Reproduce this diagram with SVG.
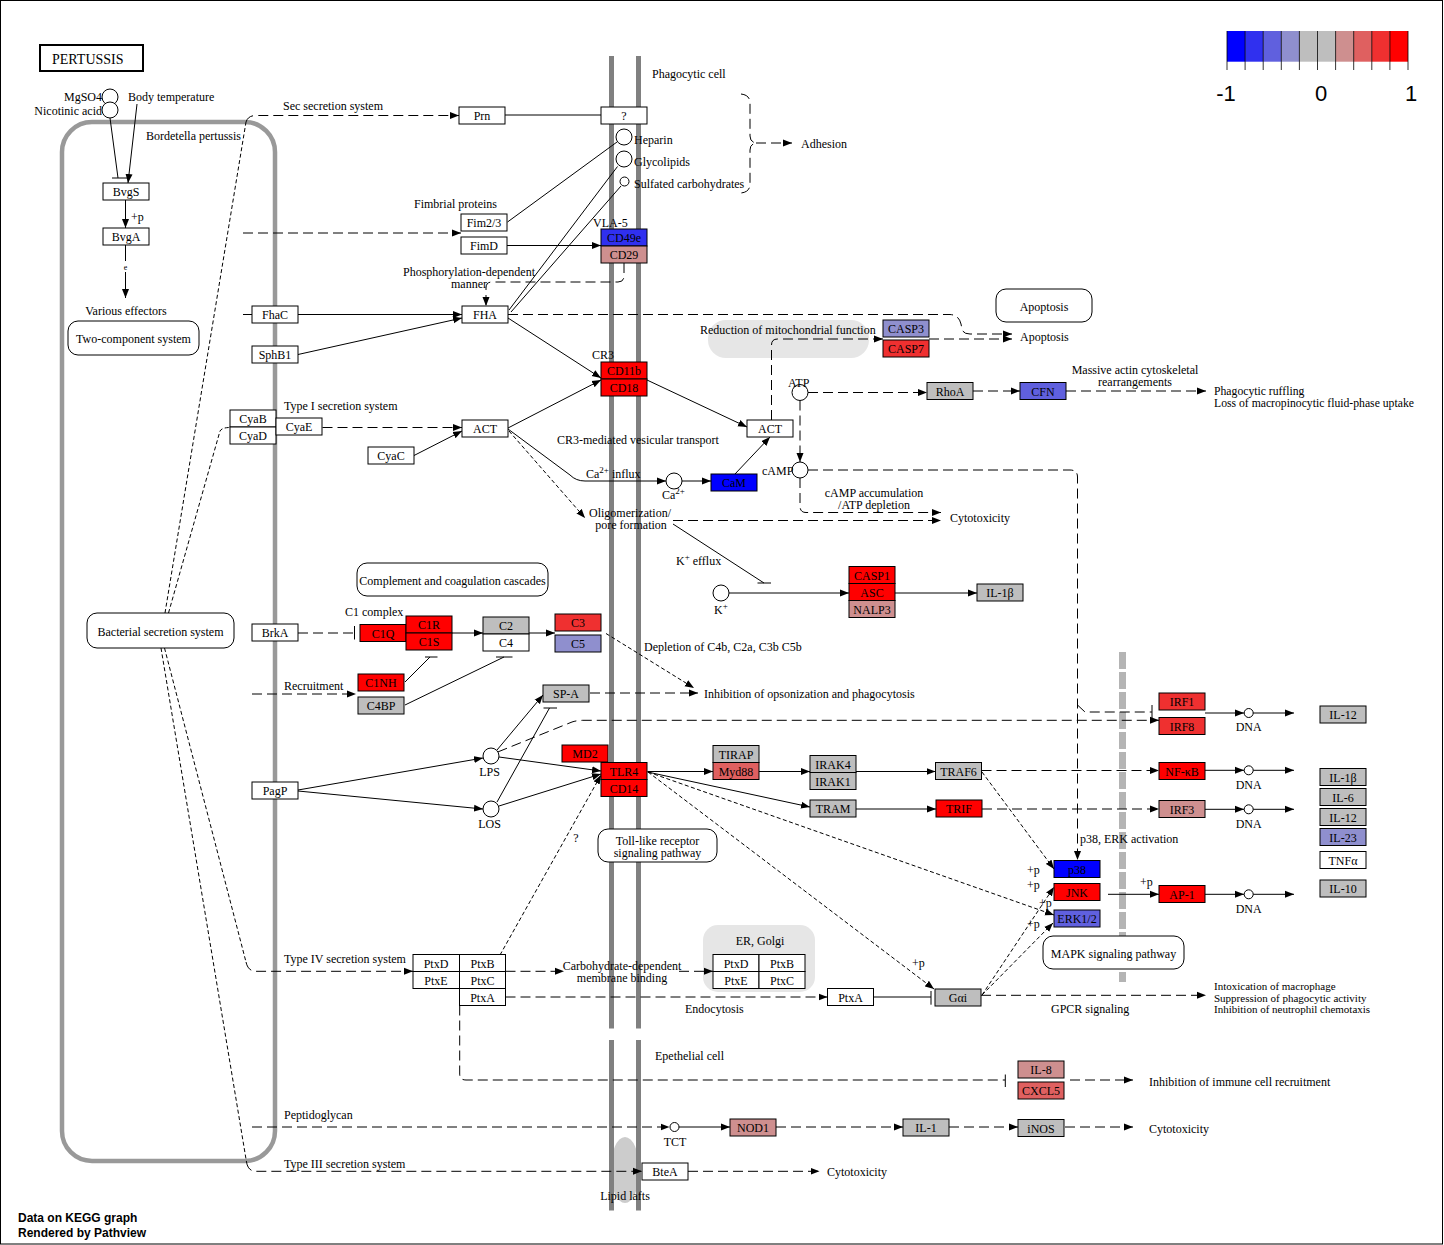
<svg xmlns="http://www.w3.org/2000/svg" width="1444" height="1245" viewBox="0 0 1444 1245">
<defs>
<style>
text{font-family:"Liberation Serif","Times New Roman",serif;font-size:12px;fill:#000}
.m{text-anchor:middle}
.te{text-anchor:end}
.s11{font-size:11px}
.s117{font-size:11.7px}
.nd rect{stroke:#000;stroke-width:1}
.w{fill:#fff}.g{fill:#BEBEBE}.r{fill:#FF0000}.b{fill:#0000FF}.b2{fill:#3030EF}.b3{fill:#6060DE}.b4{fill:#8F8FCE}.r2{fill:#CE8F8F}.r3{fill:#DF6060}.r4{fill:#EF3030}
.cp{fill:#fff;stroke:#000;stroke-width:1}
.pw{fill:#fff;stroke:#000;stroke-width:1}
.ln{fill:none;stroke:#000;stroke-width:1}
.ds{stroke-dasharray:10 5}
.th{stroke-dasharray:4 2.5}
.lg{font-family:"Liberation Sans",Arial,sans-serif;font-size:22px;text-anchor:middle}
.ft{font-family:"Liberation Sans",Arial,sans-serif;font-size:12px;font-weight:bold}
</style>
<marker id="a" viewBox="0 0 9 8" refX="9" refY="4" markerWidth="9" markerHeight="8" markerUnits="userSpaceOnUse" orient="auto">
<path d="M0,0.5 L9,4 L0,7.5 z" fill="#000"/>
</marker>
</defs>
<rect x="0" y="0" width="1444" height="1245" fill="#fff"/>
<rect x="0.5" y="0.5" width="1442" height="1243.5" fill="none" stroke="#000" stroke-width="1"/>

<!-- compartments and background shapes -->
<g id="compartments">
<rect x="62" y="122" width="213" height="1039" rx="30" fill="none" stroke="#999" stroke-width="4.5"/>
<rect x="708" y="320" width="161" height="38" rx="18" fill="#E6E6E6"/>
<rect x="703" y="925" width="112" height="67" rx="15" fill="#E6E6E6"/>
<ellipse cx="625" cy="1170" rx="14.5" ry="33" fill="#CCCCCC"/>
<g stroke="#808080" stroke-width="5">
<line x1="611.5" y1="56" x2="611.5" y2="1028.5"/>
<line x1="638.5" y1="56" x2="638.5" y2="1028.5"/>
<line x1="611.5" y1="1040" x2="611.5" y2="1210.5"/>
<line x1="638.5" y1="1040" x2="638.5" y2="1210.5"/>
</g>
<line x1="1122.5" y1="652" x2="1122.5" y2="982" stroke="#B4B4B4" stroke-width="7" stroke-dasharray="17 3"/>
</g>

<!-- legend -->
<g id="legend">
<rect x="1227" y="31" width="18.1" height="30.7" fill="#0000FF"/>
<rect x="1245.1" y="31" width="18.1" height="30.7" fill="#3030EF"/>
<rect x="1263.2" y="31" width="18.1" height="30.7" fill="#6060DE"/>
<rect x="1281.3" y="31" width="18.1" height="30.7" fill="#8F8FCE"/>
<rect x="1299.4" y="31" width="18.1" height="30.7" fill="#BEBEBE"/>
<rect x="1317.5" y="31" width="18.1" height="30.7" fill="#BEBEBE"/>
<rect x="1335.6" y="31" width="18.1" height="30.7" fill="#CE8F8F"/>
<rect x="1353.7" y="31" width="18.1" height="30.7" fill="#DF6060"/>
<rect x="1371.8" y="31" width="18.1" height="30.7" fill="#EF3030"/>
<rect x="1389.9" y="31" width="18.1" height="30.7" fill="#FF0000"/>
<g stroke="#000" stroke-width="0.8">
<line x1="1227" y1="31" x2="1227" y2="70"/><line x1="1245.1" y1="31" x2="1245.1" y2="70"/>
<line x1="1263.2" y1="31" x2="1263.2" y2="70"/><line x1="1281.3" y1="31" x2="1281.3" y2="70"/>
<line x1="1299.4" y1="31" x2="1299.4" y2="70"/><line x1="1317.5" y1="31" x2="1317.5" y2="70"/>
<line x1="1335.6" y1="31" x2="1335.6" y2="70"/><line x1="1353.7" y1="31" x2="1353.7" y2="70"/>
<line x1="1371.8" y1="31" x2="1371.8" y2="70"/><line x1="1389.9" y1="31" x2="1389.9" y2="70"/>
<line x1="1408" y1="31" x2="1408" y2="70"/>
</g>
<text class="lg" x="1226" y="101">-1</text>
<text class="lg" x="1321" y="101">0</text>
<text class="lg" x="1411" y="101">1</text>
</g>

<!-- title -->
<g id="title">
<rect x="40" y="45" width="103" height="26" fill="#fff" stroke="#000" stroke-width="2"/>
<text x="52" y="64" style="font-size:14px">PERTUSSIS</text>
</g>

<!-- connectors -->
<g id="edges" class="ln">
<line x1="110" y1="118" x2="118" y2="178"/>
<line x1="112" y1="178" x2="128" y2="178"/>
<line x1="137" y1="104" x2="128" y2="183" marker-end="url(#a)"/>
<line x1="125.5" y1="200" x2="125.5" y2="228" marker-end="url(#a)"/>
<line x1="125.5" y1="245" x2="125.5" y2="261"/>
<line x1="125.5" y1="272" x2="125.5" y2="298" marker-end="url(#a)"/>
<path class="th" d="M165,613 L246,122"/>
<path class="ds" d="M246,122 Q248,115.5 256,115.5 H459" marker-end="url(#a)"/>
<path class="ds" d="M243,233 H461" marker-end="url(#a)"/>
<line x1="505" y1="115" x2="601" y2="115"/>
<line x1="507.5" y1="222" x2="617" y2="142"/>
<line x1="617.5" y1="166.5" x2="509" y2="310"/>
<line x1="621" y1="186" x2="511" y2="312"/>
<line x1="507" y1="245.5" x2="601" y2="245.5" marker-end="url(#a)"/>
<path class="ds" d="M741,94 Q750,95 750,103 V136 Q750,142 756,143 Q750,144 750,150 V184 Q750,192 741,193"/>
<path class="ds" d="M756,143 H792" marker-end="url(#a)"/>
<path class="ds" d="M624,263 V276 Q624,282 618,282 H492 Q486,282 486,288 V306" marker-end="url(#a)"/>
<line x1="243" y1="314.5" x2="252" y2="314.5"/>
<line x1="298" y1="314.5" x2="462" y2="314.5" marker-end="url(#a)"/>
<line x1="298" y1="354.5" x2="462" y2="318" marker-end="url(#a)"/>
<path class="ds" d="M508,314.5 H950 Q959,315 961,324 L962,329 Q963,334 970,334 H1012" marker-end="url(#a)"/>
<path class="ds" d="M929,339 H1012" marker-end="url(#a)"/>
<path class="ds" d="M771.5,420 V345 Q771.5,339 777.5,339 H883" marker-end="url(#a)"/>
<line x1="508" y1="318" x2="601" y2="378" marker-end="url(#a)"/>
<line x1="508" y1="428" x2="601" y2="380" marker-end="url(#a)"/>
<line x1="647" y1="380" x2="747" y2="427" marker-end="url(#a)"/>
<path class="ds" d="M322.5,427.5 H462" marker-end="url(#a)"/>
<line x1="414" y1="455.5" x2="462" y2="431" marker-end="url(#a)"/>
<path class="th" d="M168.5,613 L220,431 Q222,427.5 230,427.5"/>
<path d="M508,429 L570,475 Q576,481 585,481 H666" marker-end="url(#a)"/>
<line x1="682" y1="481" x2="711" y2="481" marker-end="url(#a)"/>
<line x1="735" y1="474" x2="770" y2="437" marker-end="url(#a)"/>
<path class="th" d="M509,431 L585,518" marker-end="url(#a)"/>
<path class="ds" d="M673,520.5 H941" marker-end="url(#a)"/>
<path class="ds" d="M800,478 V506 Q800,512.5 806,512.5 H941" marker-end="url(#a)"/>
<line x1="673" y1="524" x2="764" y2="583"/>
<line x1="757.5" y1="583" x2="771" y2="583"/>
<line x1="729" y1="593" x2="849" y2="593" marker-end="url(#a)"/>
<line x1="895" y1="593" x2="977" y2="593" marker-end="url(#a)"/>
<path class="ds" d="M808,392.5 H927" marker-end="url(#a)"/>
<path class="ds" d="M973,391 H1020" marker-end="url(#a)"/>
<path class="ds" d="M1066,391 H1206" marker-end="url(#a)"/>
<path class="ds" d="M800,400.5 V462" marker-end="url(#a)"/>
<path class="ds" d="M808,470 H1070 Q1077.5,470 1077.5,477 V860" marker-end="url(#a)"/>
<path class="ds" d="M1077.5,705 L1085,712 H1152"/>
<line x1="1152" y1="705" x2="1152" y2="719"/>
<path class="ds" d="M497.7,752 L572,722 Q577,720.3 584,720.3 H1159" marker-end="url(#a)"/>
<path class="ds" d="M981.5,770.5 H1159" marker-end="url(#a)"/>
<path class="ds" d="M982,809 H1159" marker-end="url(#a)"/>
<line x1="1205" y1="713" x2="1244" y2="713" marker-end="url(#a)"/>
<line x1="1253" y1="713" x2="1294" y2="713" marker-end="url(#a)"/>
<line x1="1205" y1="770.3" x2="1244" y2="770.3" marker-end="url(#a)"/>
<line x1="1253" y1="770.3" x2="1294" y2="770.3" marker-end="url(#a)"/>
<line x1="1205" y1="809.3" x2="1244" y2="809.3" marker-end="url(#a)"/>
<line x1="1253" y1="809.3" x2="1294" y2="809.3" marker-end="url(#a)"/>
<line x1="1205" y1="894.3" x2="1244" y2="894.3" marker-end="url(#a)"/>
<line x1="1253" y1="894.3" x2="1294" y2="894.3" marker-end="url(#a)"/>
<line x1="1108" y1="894.3" x2="1159" y2="894.3" marker-end="url(#a)"/>
<path class="th" d="M982,772 L1054,869" marker-end="url(#a)"/>
<path class="th" d="M982,995 L1054,887" marker-end="url(#a)"/>
<path class="th" d="M648,772 L1054,915" marker-end="url(#a)"/>
<path class="th" d="M982,995 L1053,923" marker-end="url(#a)"/>
<path class="th" d="M648,772 L934,989" marker-end="url(#a)"/>
<line x1="647.5" y1="771.5" x2="713" y2="771.5" marker-end="url(#a)"/>
<line x1="759" y1="771.5" x2="810" y2="771.5" marker-end="url(#a)"/>
<line x1="856" y1="771.5" x2="935.5" y2="771.5" marker-end="url(#a)"/>
<line x1="647.5" y1="772" x2="810" y2="807" marker-end="url(#a)"/>
<line x1="856" y1="809" x2="936" y2="809" marker-end="url(#a)"/>
<line x1="499" y1="757" x2="601" y2="771" marker-end="url(#a)"/>
<line x1="499" y1="806" x2="601" y2="774" marker-end="url(#a)"/>
<line x1="298" y1="790" x2="483" y2="758" marker-end="url(#a)"/>
<line x1="298" y1="791" x2="483" y2="809" marker-end="url(#a)"/>
<line x1="497" y1="750" x2="543" y2="695" marker-end="url(#a)"/>
<line x1="497" y1="802" x2="549.5" y2="708"/>
<line x1="543.5" y1="708" x2="557" y2="708"/>
<path class="ds" d="M590,693 H698" marker-end="url(#a)"/>
<path class="th" d="M606,633.5 L694,688" marker-end="url(#a)"/>
<line x1="529" y1="633" x2="555" y2="633" marker-end="url(#a)"/>
<line x1="452" y1="633" x2="483" y2="633" marker-end="url(#a)"/>
<path class="ds" d="M298,633 H354"/>
<line x1="354.5" y1="626" x2="354.5" y2="639.5"/>
<line x1="405" y1="682" x2="430" y2="657"/>
<line x1="425" y1="657" x2="437.5" y2="657"/>
<line x1="405" y1="705" x2="504" y2="657"/>
<line x1="496" y1="657" x2="512.5" y2="657"/>
<path class="ds" d="M252,694 H356" marker-end="url(#a)"/>
<path class="th" d="M500,955 L601,775" marker-end="url(#a)"/>
<path class="th" d="M164.5,648 L246,962"/>
<path class="ds" d="M246,962 Q248,971.3 256,971.3 H413" marker-end="url(#a)"/>
<path class="th" d="M161,648 L246.5,1162"/>
<path class="ds" d="M246.5,1162 Q248,1171.3 256,1171.3 H642" marker-end="url(#a)"/>
<path class="ds" d="M505.5,971.3 H564" marker-end="url(#a)"/>
<path class="ds" d="M679,971.3 H713" marker-end="url(#a)"/>
<path class="ds" d="M505.5,997 H827.5" marker-end="url(#a)"/>
<line x1="873.5" y1="997" x2="931" y2="997"/>
<line x1="931" y1="991" x2="931" y2="1004.7"/>
<path class="ds" d="M981,995.3 H1206" marker-end="url(#a)"/>
<path class="ds" d="M459.7,1005.5 V1074 Q459.7,1080 466,1080 H1005"/>
<line x1="1005.3" y1="1074.5" x2="1005.3" y2="1087"/>
<path class="ds" d="M1070,1080 H1133" marker-end="url(#a)"/>
<path class="ds" d="M252,1127 H669.5" marker-end="url(#a)"/>
<line x1="679" y1="1127" x2="730" y2="1127" marker-end="url(#a)"/>
<path class="ds" d="M776,1127 H903" marker-end="url(#a)"/>
<path class="ds" d="M949,1127 H1018" marker-end="url(#a)"/>
<path class="ds" d="M1065,1127 H1133" marker-end="url(#a)"/>
<path class="ds" d="M688,1171.3 H819.5" marker-end="url(#a)"/>
</g>

<!-- pathway map links -->
<g id="map-two-component"><rect class="pw" x="68" y="321" width="131" height="34" rx="10"/><text class="m" x="133.5" y="343">Two-component system</text></g>
<g id="map-bacterial-secretion"><rect class="pw" x="87" y="613" width="147" height="35" rx="10"/><text class="m" x="160.5" y="636">Bacterial secretion system</text></g>
<g id="map-complement"><rect class="pw" x="357" y="563" width="191" height="33" rx="10"/><text class="m" x="452.5" y="585">Complement and coagulation cascades</text></g>
<g id="map-apoptosis"><rect class="pw" x="996" y="289" width="96" height="33" rx="10"/><text class="m" x="1044" y="311">Apoptosis</text></g>
<g id="map-tlr"><rect class="pw" x="598" y="829" width="119" height="33" rx="10"/><text class="m" x="657.5" y="845">Toll-like receptor</text><text class="m" x="657.5" y="856.5">signaling pathway</text></g>
<g id="map-mapk"><rect class="pw" x="1043" y="936" width="141" height="33" rx="10"/><text class="m" x="1113.5" y="958">MAPK signaling pathway</text></g>

<!-- compounds -->
<g id="c-MgSO4"><circle class="cp" cx="110" cy="97" r="8"/></g>
<g id="c-nicotinic"><circle class="cp" cx="110" cy="110" r="8"/></g>
<g id="c-heparin"><circle class="cp" cx="624" cy="137" r="8"/></g>
<g id="c-glycolipids"><circle class="cp" cx="624" cy="159" r="8"/></g>
<g id="c-sulfated"><circle class="cp" cx="624.5" cy="181.5" r="4.5"/></g>
<g id="c-Ca"><circle class="cp" cx="674" cy="481" r="8"/></g>
<g id="c-ATP"><circle class="cp" cx="800" cy="392.5" r="8"/></g>
<g id="c-cAMP"><circle class="cp" cx="800" cy="470" r="8"/></g>
<g id="c-K"><circle class="cp" cx="721" cy="593" r="8"/></g>
<g id="c-LPS"><circle class="cp" cx="491" cy="756" r="8"/></g>
<g id="c-LOS"><circle class="cp" cx="491" cy="809" r="8"/></g>
<g id="c-TCT"><circle class="cp" cx="674.5" cy="1127" r="4.5"/></g>
<g id="c-DNA1"><circle class="cp" cx="1248.7" cy="713" r="4.5"/></g>
<g id="c-DNA2"><circle class="cp" cx="1248.7" cy="770.3" r="4.5"/></g>
<g id="c-DNA3"><circle class="cp" cx="1248.7" cy="809.3" r="4.5"/></g>
<g id="c-DNA4"><circle class="cp" cx="1248.7" cy="894.3" r="4.5"/></g>

<!-- gene nodes -->
<g class="nd">
<g id="n-BvgS"><rect class="w" x="103" y="183" width="46" height="17"/><text class="m" x="126" y="196">BvgS</text></g>
<g id="n-BvgA"><rect class="w" x="103" y="228" width="46" height="17"/><text class="m" x="126" y="241">BvgA</text></g>
<g id="n-Prn"><rect class="w" x="459" y="107" width="46" height="17"/><text class="m" x="482" y="120">Prn</text></g>
<g id="n-unknown"><rect class="w" x="601" y="107" width="46" height="17"/><text class="m" x="624" y="120">?</text></g>
<g id="n-Fim23"><rect class="w" x="461" y="214" width="46" height="17"/><text class="m" x="484" y="227">Fim2/3</text></g>
<g id="n-FimD"><rect class="w" x="461" y="237" width="46" height="17"/><text class="m" x="484" y="250">FimD</text></g>
<g id="n-CD49e"><rect class="b2" x="601" y="229" width="46" height="17"/><text class="m" x="624" y="242">CD49e</text></g>
<g id="n-CD29"><rect class="r2" x="601" y="246" width="46" height="17"/><text class="m" x="624" y="259">CD29</text></g>
<g id="n-FhaC"><rect class="w" x="252" y="306" width="46" height="17"/><text class="m" x="275" y="319">FhaC</text></g>
<g id="n-FHA"><rect class="w" x="462" y="306" width="46" height="17"/><text class="m" x="485" y="319">FHA</text></g>
<g id="n-SphB1"><rect class="w" x="252" y="346" width="46" height="17"/><text class="m" x="275" y="359">SphB1</text></g>
<g id="n-CASP3"><rect class="b4" x="883" y="320" width="46" height="17"/><text class="m" x="906" y="333">CASP3</text></g>
<g id="n-CASP7"><rect class="r4" x="883" y="340" width="46" height="17"/><text class="m" x="906" y="353">CASP7</text></g>
<g id="n-CD11b"><rect class="r" x="601" y="362" width="46" height="17"/><text class="m" x="624" y="375">CD11b</text></g>
<g id="n-CD18"><rect class="r" x="601" y="379" width="46" height="17"/><text class="m" x="624" y="392">CD18</text></g>
<g id="n-RhoA"><rect class="g" x="927" y="382.5" width="46" height="17"/><text class="m" x="950" y="395.5">RhoA</text></g>
<g id="n-CFN"><rect class="b3" x="1020" y="382.5" width="46" height="17"/><text class="m" x="1043" y="395.5">CFN</text></g>
<g id="n-CyaB"><rect class="w" x="230" y="410" width="46" height="17"/><text class="m" x="253" y="423">CyaB</text></g>
<g id="n-CyaD"><rect class="w" x="230" y="427" width="46" height="17"/><text class="m" x="253" y="440">CyaD</text></g>
<g id="n-CyaE"><rect class="w" x="276" y="418" width="46" height="17"/><text class="m" x="299" y="431">CyaE</text></g>
<g id="n-ACT1"><rect class="w" x="462" y="420" width="46" height="17"/><text class="m" x="485" y="433">ACT</text></g>
<g id="n-ACT2"><rect class="w" x="747" y="420" width="46" height="17"/><text class="m" x="770" y="433">ACT</text></g>
<g id="n-CyaC"><rect class="w" x="368" y="447" width="46" height="17"/><text class="m" x="391" y="460">CyaC</text></g>
<g id="n-CaM"><rect class="b" x="711" y="474" width="46" height="17"/><text class="m" x="734" y="487">CaM</text></g>
<g id="n-CASP1"><rect class="r" x="849" y="566.5" width="46" height="17"/><text class="m" x="872" y="579.5">CASP1</text></g>
<g id="n-ASC"><rect class="r" x="849" y="583.5" width="46" height="17"/><text class="m" x="872" y="596.5">ASC</text></g>
<g id="n-NALP3"><rect class="r2" x="849" y="600.5" width="46" height="17"/><text class="m" x="872" y="613.5">NALP3</text></g>
<g id="n-IL1b-a"><rect class="g" x="977" y="584" width="46" height="17"/><text class="m" x="1000" y="597">IL-1β</text></g>
<g id="n-BrkA"><rect class="w" x="252" y="624" width="46" height="17"/><text class="m" x="275" y="637">BrkA</text></g>
<g id="n-C1Q"><rect class="r" x="360" y="624.5" width="46" height="17"/><text class="m" x="383" y="637.5">C1Q</text></g>
<g id="n-C1R"><rect class="r" x="406" y="616" width="46" height="17"/><text class="m" x="429" y="629">C1R</text></g>
<g id="n-C1S"><rect class="r" x="406" y="633" width="46" height="17"/><text class="m" x="429" y="646">C1S</text></g>
<g id="n-C2"><rect class="g" x="483" y="617" width="46" height="17"/><text class="m" x="506" y="630">C2</text></g>
<g id="n-C4"><rect class="w" x="483" y="634" width="46" height="17"/><text class="m" x="506" y="647">C4</text></g>
<g id="n-C3"><rect class="r4" x="555" y="614" width="46" height="17"/><text class="m" x="578" y="627">C3</text></g>
<g id="n-C5"><rect class="b4" x="555" y="635" width="46" height="17"/><text class="m" x="578" y="648">C5</text></g>
<g id="n-C1NH"><rect class="r" x="358" y="674" width="46" height="17"/><text class="m" x="381" y="687">C1NH</text></g>
<g id="n-C4BP"><rect class="g" x="358" y="697" width="46" height="17"/><text class="m" x="381" y="710">C4BP</text></g>
<g id="n-SPA"><rect class="g" x="543" y="685" width="46" height="17"/><text class="m" x="566" y="698">SP-A</text></g>
<g id="n-MD2"><rect class="r" x="562" y="745" width="46" height="17"/><text class="m" x="585" y="758">MD2</text></g>
<g id="n-TLR4"><rect class="r" x="601" y="762.5" width="46" height="17"/><text class="m" x="624" y="775.5">TLR4</text></g>
<g id="n-CD14"><rect class="r" x="601" y="779.5" width="46" height="17"/><text class="m" x="624" y="792.5">CD14</text></g>
<g id="n-TIRAP"><rect class="g" x="713" y="745.5" width="46" height="17"/><text class="m" x="736" y="758.5">TIRAP</text></g>
<g id="n-Myd88"><rect class="r3" x="713" y="762.5" width="46" height="17"/><text class="m" x="736" y="775.5">Myd88</text></g>
<g id="n-IRAK4"><rect class="g" x="810" y="755.5" width="46" height="17"/><text class="m" x="833" y="768.5">IRAK4</text></g>
<g id="n-IRAK1"><rect class="g" x="810" y="772.5" width="46" height="17"/><text class="m" x="833" y="785.5">IRAK1</text></g>
<g id="n-TRAF6"><rect class="g" x="935.5" y="762.5" width="46" height="17"/><text class="m" x="958.5" y="775.5">TRAF6</text></g>
<g id="n-TRAM"><rect class="g" x="810" y="800" width="46" height="17"/><text class="m" x="833" y="813">TRAM</text></g>
<g id="n-TRIF"><rect class="r" x="936" y="800" width="46" height="17"/><text class="m" x="959" y="813">TRIF</text></g>
<g id="n-PagP"><rect class="w" x="252" y="782" width="46" height="17"/><text class="m" x="275" y="795">PagP</text></g>
<g id="n-IRF1"><rect class="r4" x="1159" y="693" width="46" height="17"/><text class="m" x="1182" y="706">IRF1</text></g>
<g id="n-IRF8"><rect class="r4" x="1159" y="717.5" width="46" height="17"/><text class="m" x="1182" y="730.5">IRF8</text></g>
<g id="n-NFkB"><rect class="r" x="1159" y="762.5" width="46" height="17"/><text class="m" x="1182" y="775.5">NF-κB</text></g>
<g id="n-IRF3"><rect class="r2" x="1159" y="800.5" width="46" height="17"/><text class="m" x="1182" y="813.5">IRF3</text></g>
<g id="n-AP1"><rect class="r" x="1159" y="885.5" width="46" height="17"/><text class="m" x="1182" y="898.5">AP-1</text></g>
<g id="n-p38"><rect class="b" x="1054" y="860.5" width="46" height="17"/><text class="m" x="1077" y="873.5">p38</text></g>
<g id="n-JNK"><rect class="r" x="1054" y="883.5" width="46" height="17"/><text class="m" x="1077" y="896.5">JNK</text></g>
<g id="n-ERK"><rect class="b3" x="1054" y="910" width="46" height="17"/><text class="m" x="1077" y="923">ERK1/2</text></g>
<g id="n-IL12-a"><rect class="g" x="1320" y="706" width="46" height="17"/><text class="m" x="1343" y="719">IL-12</text></g>
<g id="n-IL1b-b"><rect class="g" x="1320" y="768.5" width="46" height="17"/><text class="m" x="1343" y="781.5">IL-1β</text></g>
<g id="n-IL6"><rect class="g" x="1320" y="788.5" width="46" height="17"/><text class="m" x="1343" y="801.5">IL-6</text></g>
<g id="n-IL12-b"><rect class="g" x="1320" y="808.5" width="46" height="17"/><text class="m" x="1343" y="821.5">IL-12</text></g>
<g id="n-IL23"><rect class="b4" x="1320" y="828.5" width="46" height="17"/><text class="m" x="1343" y="841.5">IL-23</text></g>
<g id="n-TNFa"><rect class="w" x="1320" y="851.5" width="46" height="17"/><text class="m" x="1343" y="864.5">TNFα</text></g>
<g id="n-IL10"><rect class="g" x="1320" y="880" width="46" height="17"/><text class="m" x="1343" y="893">IL-10</text></g>
<g id="n-PtxD"><rect class="w" x="413" y="954.5" width="46.5" height="17"/><text class="m" x="436" y="967.5">PtxD</text></g>
<g id="n-PtxE"><rect class="w" x="413" y="971.5" width="46.5" height="17"/><text class="m" x="436" y="984.5">PtxE</text></g>
<g id="n-PtxB"><rect class="w" x="459.5" y="954.5" width="46" height="17"/><text class="m" x="482.5" y="967.5">PtxB</text></g>
<g id="n-PtxC"><rect class="w" x="459.5" y="971.5" width="46" height="17"/><text class="m" x="482.5" y="984.5">PtxC</text></g>
<g id="n-PtxA"><rect class="w" x="459.5" y="988.5" width="46" height="17"/><text class="m" x="482.5" y="1001.5">PtxA</text></g>
<g id="n-PtxD-er"><rect class="w" x="713" y="954.5" width="46" height="17"/><text class="m" x="736" y="967.5">PtxD</text></g>
<g id="n-PtxB-er"><rect class="w" x="759" y="954.5" width="46" height="17"/><text class="m" x="782" y="967.5">PtxB</text></g>
<g id="n-PtxE-er"><rect class="w" x="713" y="971.5" width="46" height="17"/><text class="m" x="736" y="984.5">PtxE</text></g>
<g id="n-PtxC-er"><rect class="w" x="759" y="971.5" width="46" height="17"/><text class="m" x="782" y="984.5">PtxC</text></g>
<g id="n-PtxA-cyt"><rect class="w" x="827.5" y="988.5" width="46" height="17"/><text class="m" x="850.5" y="1001.5">PtxA</text></g>
<g id="n-Gai"><rect class="g" x="935" y="989" width="46" height="17"/><text class="m" x="958" y="1002">Gαi</text></g>
<g id="n-IL8"><rect class="r2" x="1018" y="1061" width="46" height="17"/><text class="m" x="1041" y="1074">IL-8</text></g>
<g id="n-CXCL5"><rect class="r3" x="1018" y="1082" width="46" height="17"/><text class="m" x="1041" y="1095">CXCL5</text></g>
<g id="n-NOD1"><rect class="r2" x="730" y="1119" width="46" height="17"/><text class="m" x="753" y="1132">NOD1</text></g>
<g id="n-IL1"><rect class="g" x="903" y="1119" width="46" height="17"/><text class="m" x="926" y="1132">IL-1</text></g>
<g id="n-iNOS"><rect class="g" x="1018" y="1119.5" width="46" height="17"/><text class="m" x="1041" y="1132.5">iNOS</text></g>
<g id="n-BteA"><rect class="w" x="642" y="1163" width="46" height="17"/><text class="m" x="665" y="1176">BteA</text></g>
</g>

<!-- labels -->
<g id="labels">
<text class="te" x="102" y="101">MgSO4</text>
<text class="te" x="102" y="115">Nicotinic acid</text>
<text x="128" y="101">Body temperature</text>
<text x="146" y="140">Bordetella pertussis</text>
<text x="131" y="221">+p</text>
<text class="m" x="125.5" y="270" style="font-size:8px">e</text>
<text class="m" x="126" y="315">Various effectors</text>
<text x="283" y="110">Sec secretion system</text>
<text x="652" y="78">Phagocytic cell</text>
<text x="634" y="144">Heparin</text>
<text x="634" y="166">Glycolipids</text>
<text x="634" y="188">Sulfated carbohydrates</text>
<text x="801" y="148">Adhesion</text>
<text x="414" y="208">Fimbrial proteins</text>
<text x="593" y="227">VLA-5</text>
<text class="m" x="469" y="276">Phosphorylation-dependent</text>
<text class="m" x="469" y="287.5">manner</text>
<text x="700" y="334">Reduction of mitochondrial function</text>
<text x="1020" y="341">Apoptosis</text>
<text x="592" y="359">CR3</text>
<text x="284" y="410">Type I secretion system</text>
<text x="557" y="444">CR3-mediated vesicular transport</text>
<text x="788" y="387">ATP</text>
<text x="762" y="475">cAMP</text>
<text class="m" x="1135" y="374">Massive actin cytoskeletal</text>
<text class="m" x="1135" y="385.5">rearrangements</text>
<text class="s117" x="1214" y="395">Phagocytic ruffling</text>
<text class="s117" x="1214" y="406.5">Loss of macropinocytic fluid-phase uptake</text>
<text x="586" y="478">Ca<tspan dy="-5" font-size="9">2+</tspan><tspan dy="5"> influx</tspan></text>
<text x="662" y="499">Ca<tspan dy="-5" font-size="9">2+</tspan></text>
<text class="m" x="630" y="517">Oligomerization/</text>
<text class="m" x="631" y="528.5">pore formation</text>
<text class="m" x="874" y="497">cAMP accumulation</text>
<text class="m" x="874" y="508.5">/ATP depletion</text>
<text x="950" y="522">Cytotoxicity</text>
<text x="676" y="565">K<tspan dy="-5" font-size="9">+</tspan><tspan dy="5"> efflux</tspan></text>
<text x="714" y="614">K<tspan dy="-5" font-size="9">+</tspan></text>
<text x="345" y="616">C1 complex</text>
<text x="284" y="690">Recruitment</text>
<text x="644" y="651">Depletion of C4b, C2a, C3b C5b</text>
<text x="704" y="698">Inhibition of opsonization and phagocytosis</text>
<text class="m" x="489.5" y="776">LPS</text>
<text class="m" x="489.5" y="828">LOS</text>
<text class="m" x="576" y="842">?</text>
<text x="1080" y="843">p38, ERK activation</text>
<text class="m" x="1248.7" y="731">DNA</text>
<text class="m" x="1248.7" y="789">DNA</text>
<text class="m" x="1248.7" y="828">DNA</text>
<text class="m" x="1248.7" y="913">DNA</text>
<text x="1027" y="874">+p</text>
<text x="1027" y="889">+p</text>
<text x="1039" y="907">+p</text>
<text x="1027" y="928">+p</text>
<text x="1140" y="886">+p</text>
<text x="284" y="963">Type IV secretion system</text>
<text class="m" x="622" y="970">Carbohydrate-dependent</text>
<text class="m" x="622" y="981.5">membrane binding</text>
<text class="m" x="760" y="945">ER, Golgi</text>
<text x="685" y="1013">Endocytosis</text>
<text x="912" y="967">+p</text>
<text x="1051" y="1013">GPCR signaling</text>
<text class="s11" x="1214" y="990">Intoxication of macrophage</text>
<text class="s11" x="1214" y="1001.5">Suppression of phagocytic activity</text>
<text class="s11" x="1214" y="1013">Inhibition of neutrophil chemotaxis</text>
<text x="655" y="1060">Epethelial cell</text>
<text x="1149" y="1086">Inhibition of immune cell recruitment</text>
<text x="284" y="1119">Peptidoglycan</text>
<text class="m" x="675" y="1146">TCT</text>
<text x="1149" y="1133">Cytotoxicity</text>
<text x="284" y="1168">Type III secretion system</text>
<text class="m" x="625" y="1200">Lipid lafts</text>
<text x="827" y="1176">Cytotoxicity</text>
<text class="ft" x="18" y="1222">Data on KEGG graph</text>
<text class="ft" x="18" y="1237">Rendered by Pathview</text>
</g>
</svg>
